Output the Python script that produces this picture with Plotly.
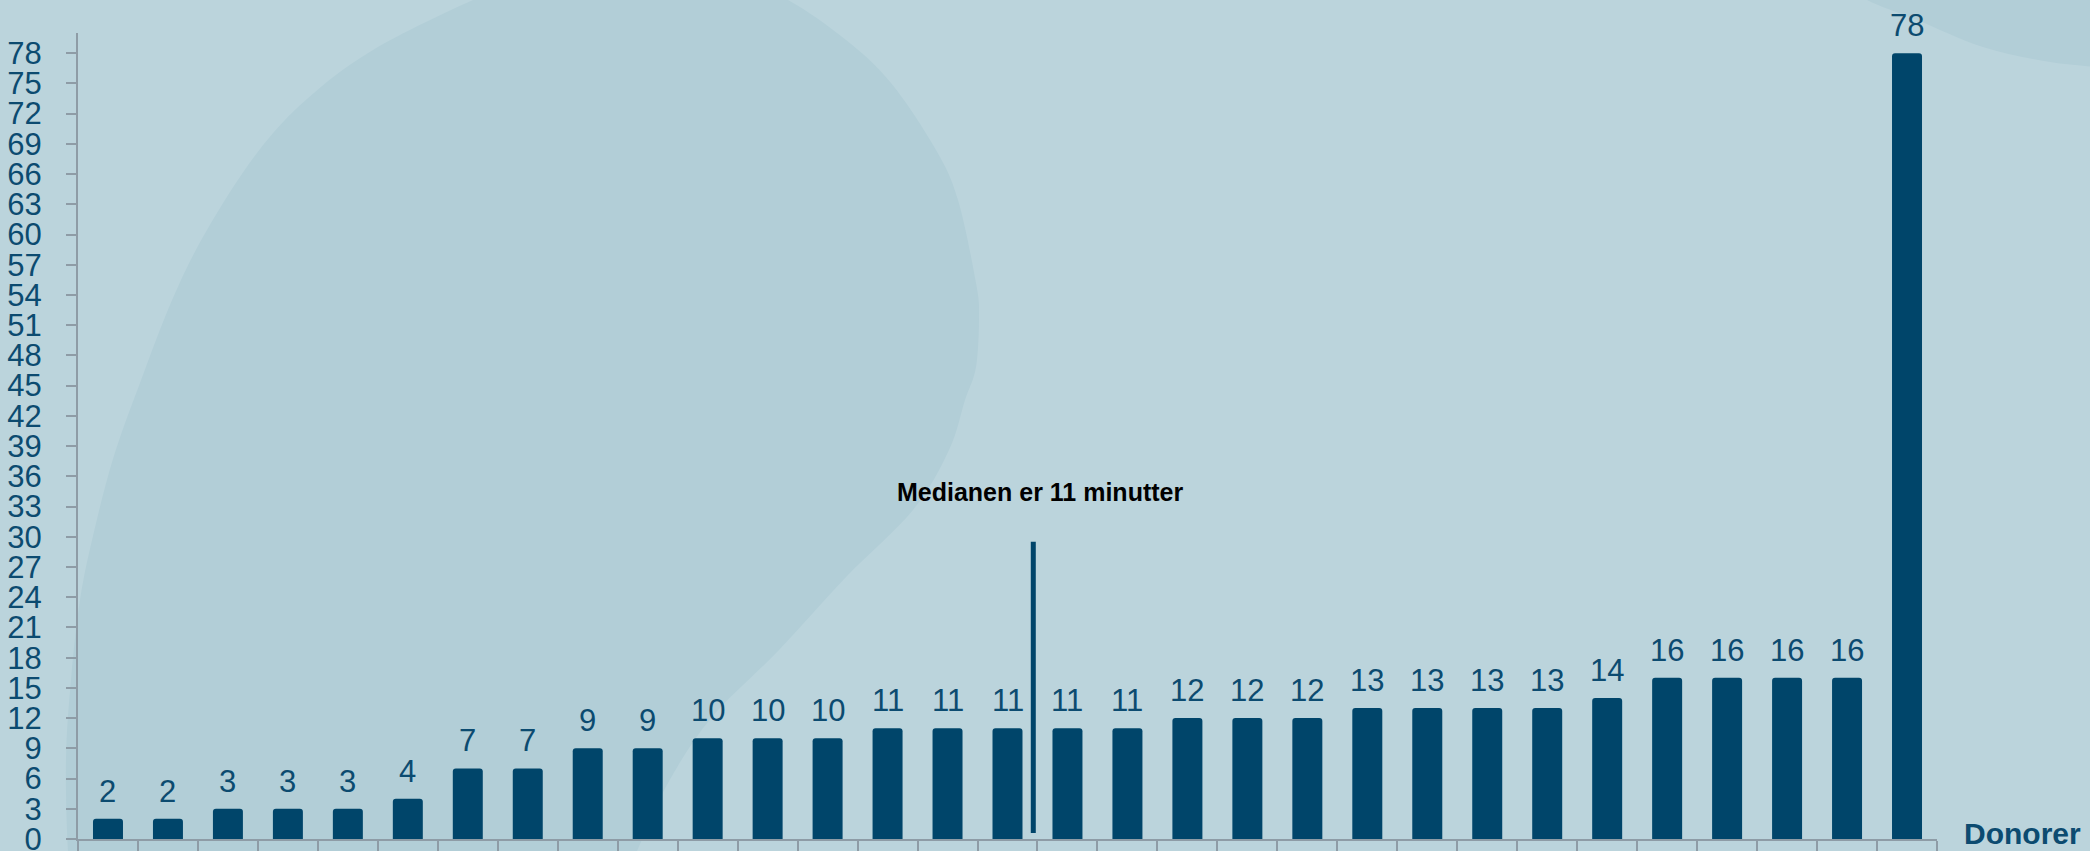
import plotly.graph_objects as go

# ---------------- data ----------------
donors = [f"Donor {i}" for i in range(1, 32)]
minutes = [2, 2, 3, 3, 3, 4, 7, 7, 9, 9, 10, 10, 10, 11, 11, 11, 11, 11,
           12, 12, 12, 13, 13, 13, 13, 14, 16, 16, 16, 16, 78]
y_ticks = list(range(0, 79, 3))
median_text = "Medianen er 11 minutter"
x_title = "Donorer"

# ---------------- style ----------------
W, H = 2090, 851
L, R, T, B = 78, 1937, 33, 839
BG = "#bbd4dc"
BLOB = "#b2ced7"
BAR = "#00456a"
TXT = "#0c4b70"
AX = "#8e9ca6"
FONT = "Liberation Sans"


def to_paper(px, py):
    return (px - L) / (R - L), (B - py) / (B - T)


def smooth_path(pts, closed_tail=None):
    # Catmull-Rom through pts (pixel coords) -> cubic bezier, in paper coords
    n = len(pts)
    def P(i):
        return pts[max(0, min(n - 1, i))]
    x0, y0 = to_paper(*pts[0])
    d = f"M {x0:.5f},{y0:.5f}"
    for i in range(n - 1):
        p0, p1, p2, p3 = P(i - 1), P(i), P(i + 1), P(i + 2)
        c1 = (p1[0] + (p2[0] - p0[0]) / 6, p1[1] + (p2[1] - p0[1]) / 6)
        c2 = (p2[0] - (p3[0] - p1[0]) / 6, p2[1] - (p3[1] - p1[1]) / 6)
        a = to_paper(*c1); b = to_paper(*c2); c = to_paper(*p2)
        d += f" C {a[0]:.5f},{a[1]:.5f} {b[0]:.5f},{b[1]:.5f} {c[0]:.5f},{c[1]:.5f}"
    if closed_tail:
        for q in closed_tail:
            qx, qy = to_paper(*q)
            d += f" L {qx:.5f},{qy:.5f}"
    return d + " Z"


left_edge = [(74, 900), (68, 851), (66, 760), (71, 680), (80, 600), (93, 536),
             (113, 459), (140, 383), (173, 298), (207, 230), (257, 153),
             (307, 99), (373, 50), (473, 0), (540, -25)]
right_edge = [(730, -25), (788, 0), (846, 40), (891, 83), (936, 150), (958, 200),
              (976, 283), (979, 317), (976, 367), (965, 400), (949, 450), (913, 510),
              (846, 577), (779, 650), (712, 717), (668, 783), (637, 851), (615, 900)]
blob_path = smooth_path(left_edge + right_edge)

circle_pts = [(1840, -20), (1867, 0), (1917, 20), (1983, 47), (2050, 62), (2110, 68)]
circle_path = smooth_path(circle_pts, closed_tail=[(2110, -20)])

fig = go.Figure()
fig.add_trace(go.Bar(
    x=donors, y=minutes, width=0.5,
    marker=dict(color=BAR, line=dict(width=0), cornerradius=3),
    hoverinfo="skip",
))

annotations = []
for d, v in zip(donors, minutes):
    annotations.append(dict(
        x=d, y=v, xref="x", yref="y", text=str(v), showarrow=False,
        yanchor="bottom", yshift=8,
        font=dict(family=FONT, size=31, color=TXT),
    ))

med_idx = len(minutes) // 2
annotations.append(dict(
    x=med_idx + 0.55, y=34.4, xref="x", yref="y", text=f"<b>{median_text}</b>",
    showarrow=False, xanchor="center", yanchor="middle",
    font=dict(family=FONT, size=25, color="#000000"),
))
dx, dy = to_paper(1962, 833)
annotations.append(dict(
    x=dx, y=dy, xref="paper", yref="paper", text=f"<b>{x_title}</b>",
    showarrow=False, xanchor="left", yanchor="middle",
    font=dict(family=FONT, size=30, color=TXT),
))

shapes = [
    dict(type="path", path=blob_path, xref="paper", yref="paper",
         fillcolor=BLOB, line=dict(width=0), layer="below"),
    dict(type="path", path=circle_path, xref="paper", yref="paper",
         fillcolor=BLOB, line=dict(width=0), layer="below"),
    dict(type="line", xref="x", yref="y", x0=med_idx + 0.43, x1=med_idx + 0.43,
         y0=0.6, y1=29.5, line=dict(color=BAR, width=5), layer="above"),
]

fig.update_layout(
    width=W, height=H,
    margin=dict(l=L, r=W - R, t=T, b=H - B, autoexpand=False),
    paper_bgcolor=BG, plot_bgcolor="rgba(0,0,0,0)",
    showlegend=False,
    bargap=0.5,
    annotations=annotations,
    shapes=shapes,
    font=dict(family=FONT, color=TXT),
)
fig.update_xaxes(
    type="category", range=[-0.5, len(donors) - 0.5], automargin=False,
    showticklabels=False, tickson="boundaries", ticks="outside", ticklen=10,
    tickwidth=1.5, tickcolor=AX, showline=True, linecolor=AX, linewidth=2,
    showgrid=False, zeroline=False, fixedrange=True,
)
fig.update_yaxes(
    range=[0, 80], tickmode="array", tickvals=y_ticks, ticktext=[str(t) for t in y_ticks],
    automargin=False, ticklabeloverflow="allow",
    ticks="outside", ticklen=10, tickwidth=1.5, tickcolor=AX,
    showline=True, linecolor=AX, linewidth=2, showgrid=False, zeroline=False,
    tickfont=dict(family=FONT, size=31, color=TXT), ticklabelstandoff=18,
    fixedrange=True,
)

fig.write_html(
    "out.html",
    config={"displayModeBar": False},
    post_script="document.body.style.margin='0';document.body.style.overflow='hidden';",
)
